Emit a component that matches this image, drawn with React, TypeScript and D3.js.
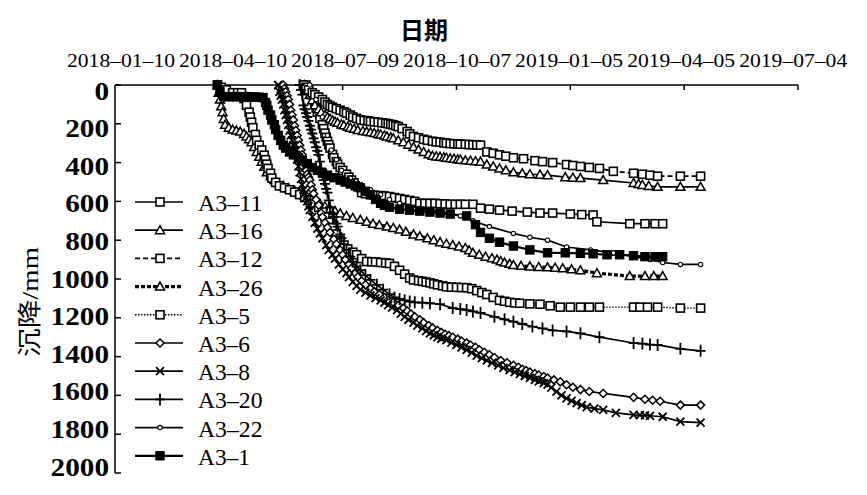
import React from 'react';
import * as d3 from 'd3';

type Pt = [string, number];

const dateTicks = ['2018-01-10', '2018-04-10', '2018-07-09', '2018-10-07', '2019-01-05', '2019-04-05', '2019-07-04'];
const yTicks = [0, 200, 400, 600, 800, 1000, 1200, 1400, 1600, 1800, 2000];
const seriesNames = ['A3-11', 'A3-16', 'A3-12', 'A3-26', 'A3-5', 'A3-6', 'A3-8', 'A3-20', 'A3-22', 'A3-1'];

const a3_11: Pt[] = [["2018-06-10",0],["2018-06-12",25],["2018-06-14",50],["2018-06-16",75],["2018-06-17",97],["2018-06-18",118],["2018-06-19",140],["2018-06-21",172],["2018-06-23",205],["2018-06-24",225],["2018-06-25",248],["2018-06-26",270],["2018-06-27",290],["2018-06-28",308],["2018-06-29",325],["2018-07-01",358],["2018-07-02",375],["2018-07-04",395],["2018-07-05",408],["2018-07-07",425],["2018-07-09",440],["2018-07-12",460],["2018-07-14",475],["2018-07-16",490],["2018-07-18",505],["2018-07-21",525],["2018-07-24",555],["2018-07-27",560],["2018-07-31",565],["2018-08-03",568],["2018-08-08",570],["2018-08-11",572],["2018-08-15",575],["2018-08-19",580],["2018-08-23",585],["2018-08-27",590],["2018-08-31",595],["2018-09-04",600],["2018-09-08",610],["2018-09-12",610],["2018-09-16",610],["2018-09-20",610],["2018-09-24",612],["2018-09-28",613],["2018-10-02",615],["2018-10-06",615],["2018-10-10",615],["2018-10-14",615],["2018-10-20",615],["2018-10-26",635],["2018-11-02",640],["2018-11-10",645],["2018-11-20",650],["2018-12-02",655],["2018-12-12",660],["2018-12-22",660],["2019-01-05",665],["2019-01-14",668],["2019-01-23",670],["2019-01-26",705],["2019-02-21",715],["2019-03-05",715],["2019-03-13",715],["2019-03-19",715]];

const a3_16: Pt[] = [["2018-06-09",0],["2018-06-11",25],["2018-06-13",50],["2018-06-15",78],["2018-06-17",105],["2018-06-20",125],["2018-06-22",140],["2018-06-25",155],["2018-06-27",165],["2018-06-29",174],["2018-07-01",182],["2018-07-03",189],["2018-07-05",195],["2018-07-08",203],["2018-07-10",208],["2018-07-13",215],["2018-07-15",220],["2018-07-18",226],["2018-07-21",232],["2018-07-25",237],["2018-07-28",240],["2018-07-31",244],["2018-08-03",248],["2018-08-06",252],["2018-08-08",255],["2018-08-11",260],["2018-08-13",265],["2018-08-16",270],["2018-08-18",275],["2018-08-22",285],["2018-08-26",295],["2018-08-30",308],["2018-09-03",320],["2018-09-07",333],["2018-09-11",345],["2018-09-15",357],["2018-09-18",365],["2018-09-21",368],["2018-09-24",370],["2018-09-27",373],["2018-09-29",375],["2018-10-02",378],["2018-10-05",380],["2018-10-08",383],["2018-10-10",385],["2018-10-14",388],["2018-10-18",390],["2018-10-22",393],["2018-10-26",395],["2018-10-31",410],["2018-11-05",420],["2018-11-10",430],["2018-11-15",440],["2018-11-21",450],["2018-11-28",455],["2018-12-04",460],["2018-12-12",462],["2018-12-18",465],["2019-01-01",475],["2019-01-07",478],["2019-01-13",480],["2019-01-31",490],["2019-02-24",505],["2019-02-28",510],["2019-03-03",515],["2019-03-08",520],["2019-03-15",525],["2019-04-02",525],["2019-04-18",525]];

const a3_12: Pt[] = [["2018-06-08",0],["2018-06-10",12],["2018-06-12",25],["2018-06-15",40],["2018-06-17",50],["2018-06-20",62],["2018-06-23",75],["2018-06-25",88],["2018-06-27",100],["2018-06-29",108],["2018-07-01",115],["2018-07-04",122],["2018-07-07",130],["2018-07-10",138],["2018-07-12",145],["2018-07-15",155],["2018-07-17",165],["2018-07-20",172],["2018-07-23",180],["2018-07-26",183],["2018-07-29",185],["2018-07-31",188],["2018-08-03",190],["2018-08-06",192],["2018-08-09",195],["2018-08-12",197],["2018-08-14",200],["2018-08-16",203],["2018-08-18",205],["2018-08-20",210],["2018-08-22",215],["2018-08-25",225],["2018-08-29",240],["2018-08-31",252],["2018-09-03",265],["2018-09-07",272],["2018-09-11",280],["2018-09-14",285],["2018-09-18",290],["2018-09-21",293],["2018-09-24",295],["2018-09-27",298],["2018-09-29",300],["2018-10-02",302],["2018-10-05",303],["2018-10-08",304],["2018-10-10",305],["2018-10-14",306],["2018-10-17",307],["2018-10-20",308],["2018-10-23",309],["2018-10-26",310],["2018-10-31",345],["2018-11-05",352],["2018-11-10",360],["2018-11-15",367],["2018-11-21",375],["2018-11-29",380],["2018-12-08",390],["2018-12-14",395],["2018-12-22",400],["2019-01-02",410],["2019-01-07",415],["2019-01-13",420],["2019-01-20",425],["2019-01-28",430],["2019-02-08",445],["2019-02-24",455],["2019-03-03",460],["2019-03-09",465],["2019-03-15",470],["2019-04-02",470],["2019-04-18",470]];

const a3_26: Pt[] = [["2018-04-01",0],["2018-04-02",40],["2018-04-03",75],["2018-04-04",110],["2018-04-05",140],["2018-04-06",175],["2018-04-07",205],["2018-04-10",220],["2018-04-13",230],["2018-04-16",235],["2018-04-19",240],["2018-04-22",252],["2018-04-24",265],["2018-04-26",280],["2018-04-28",295],["2018-04-30",320],["2018-05-02",345],["2018-05-04",370],["2018-05-06",395],["2018-05-08",422],["2018-05-10",450],["2018-05-13",470],["2018-05-16",490],["2018-05-19",505],["2018-05-23",520],["2018-05-27",532],["2018-06-01",545],["2018-06-05",558],["2018-06-09",570],["2018-06-13",585],["2018-06-17",600],["2018-06-21",612],["2018-06-25",625],["2018-06-29",638],["2018-07-03",650],["2018-07-07",662],["2018-07-12",675],["2018-07-17",685],["2018-07-23",695],["2018-07-28",705],["2018-08-02",715],["2018-08-07",722],["2018-08-13",730],["2018-08-18",737],["2018-08-23",745],["2018-08-28",757],["2018-09-03",770],["2018-09-08",780],["2018-09-14",790],["2018-09-19",800],["2018-09-24",810],["2018-09-29",818],["2018-10-04",825],["2018-10-09",832],["2018-10-14",840],["2018-10-17",852],["2018-10-20",865],["2018-10-25",875],["2018-10-30",885],["2018-11-04",893],["2018-11-08",900],["2018-11-11",908],["2018-11-14",915],["2018-11-18",922],["2018-11-21",928],["2018-11-27",932],["2018-12-04",935],["2018-12-11",938],["2018-12-18",940],["2018-12-24",942],["2018-12-30",945],["2019-01-06",950],["2019-01-13",955],["2019-01-26",970],["2019-02-21",985],["2019-03-05",985],["2019-03-12",985],["2019-03-19",985]];

const a3_5: Pt[] = [["2018-04-01",0],["2018-04-04",12],["2018-04-08",25],["2018-04-13",40],["2018-04-17",40],["2018-04-20",40],["2018-04-22",70],["2018-04-24",105],["2018-04-26",140],["2018-04-27",165],["2018-04-28",192],["2018-04-29",220],["2018-05-01",255],["2018-05-02",285],["2018-05-04",310],["2018-05-06",335],["2018-05-08",362],["2018-05-09",385],["2018-05-10",408],["2018-05-11",430],["2018-05-13",455],["2018-05-14",480],["2018-05-17",502],["2018-05-20",520],["2018-05-24",530],["2018-05-28",540],["2018-06-01",552],["2018-06-05",565],["2018-06-09",580],["2018-06-13",595],["2018-06-17",612],["2018-06-20",630],["2018-06-23",655],["2018-06-25",680],["2018-06-28",708],["2018-07-01",735],["2018-07-04",768],["2018-07-07",800],["2018-07-10",825],["2018-07-13",845],["2018-07-17",862],["2018-07-20",875],["2018-07-24",895],["2018-07-28",910],["2018-08-01",911],["2018-08-04",912],["2018-08-08",915],["2018-08-12",917],["2018-08-15",920],["2018-08-19",935],["2018-08-23",955],["2018-08-27",975],["2018-08-31",995],["2018-09-03",1005],["2018-09-07",1009],["2018-09-10",1012],["2018-09-13",1016],["2018-09-16",1020],["2018-09-19",1025],["2018-09-22",1030],["2018-09-26",1035],["2018-09-29",1040],["2018-10-03",1042],["2018-10-07",1043],["2018-10-11",1044],["2018-10-15",1045],["2018-10-19",1050],["2018-10-23",1060],["2018-10-27",1070],["2018-10-31",1080],["2018-11-05",1095],["2018-11-10",1110],["2018-11-14",1115],["2018-11-18",1120],["2018-11-22",1123],["2018-11-26",1125],["2018-12-04",1128],["2018-12-12",1130],["2018-12-20",1138],["2018-12-28",1145],["2019-01-05",1145],["2019-01-13",1145],["2019-01-20",1145],["2019-01-28",1145],["2019-02-24",1145],["2019-03-01",1145],["2019-03-07",1145],["2019-03-15",1145],["2019-04-02",1150],["2019-04-18",1150]];

const a3_6: Pt[] = [["2018-05-23",0],["2018-05-24",18],["2018-05-25",35],["2018-05-26",55],["2018-05-27",75],["2018-05-28",100],["2018-05-29",130],["2018-05-30",155],["2018-05-31",180],["2018-06-01",210],["2018-06-02",235],["2018-06-03",260],["2018-06-04",285],["2018-06-05",310],["2018-06-06",335],["2018-06-07",360],["2018-06-08",385],["2018-06-09",410],["2018-06-10",440],["2018-06-11",460],["2018-06-12",475],["2018-06-13",490],["2018-06-14",515],["2018-06-15",540],["2018-06-16",560],["2018-06-18",590],["2018-06-20",620],["2018-06-22",660],["2018-06-23",680],["2018-06-25",710],["2018-06-27",735],["2018-06-29",760],["2018-07-02",795],["2018-07-04",820],["2018-07-07",850],["2018-07-09",875],["2018-07-11",900],["2018-07-14",925],["2018-07-16",945],["2018-07-19",970],["2018-07-21",990],["2018-07-24",1010],["2018-07-27",1030],["2018-07-31",1050],["2018-08-03",1065],["2018-08-07",1080],["2018-08-11",1095],["2018-08-14",1108],["2018-08-18",1120],["2018-08-22",1135],["2018-08-26",1150],["2018-08-29",1165],["2018-09-01",1180],["2018-09-04",1195],["2018-09-08",1210],["2018-09-11",1225],["2018-09-15",1240],["2018-09-18",1252],["2018-09-22",1265],["2018-09-25",1275],["2018-09-28",1285],["2018-10-01",1292],["2018-10-04",1300],["2018-10-08",1310],["2018-10-11",1320],["2018-10-15",1330],["2018-10-18",1340],["2018-10-22",1352],["2018-10-25",1365],["2018-10-29",1378],["2018-11-02",1390],["2018-11-06",1405],["2018-11-11",1420],["2018-11-16",1432],["2018-11-21",1445],["2018-11-25",1455],["2018-11-28",1465],["2018-12-01",1472],["2018-12-04",1480],["2018-12-08",1488],["2018-12-11",1495],["2018-12-15",1503],["2018-12-18",1510],["2018-12-23",1520],["2018-12-28",1530],["2019-01-02",1545],["2019-01-07",1558],["2019-01-13",1570],["2019-01-20",1580],["2019-01-31",1590],["2019-02-24",1610],["2019-03-05",1620],["2019-03-11",1625],["2019-03-17",1630],["2019-04-02",1650],["2019-04-18",1650]];

const a3_8: Pt[] = [["2018-05-19",0],["2018-05-20",35],["2018-05-21",55],["2018-05-22",75],["2018-05-23",100],["2018-05-24",130],["2018-05-25",155],["2018-05-26",180],["2018-05-27",205],["2018-05-28",235],["2018-05-29",260],["2018-05-30",285],["2018-05-31",310],["2018-06-01",335],["2018-06-02",360],["2018-06-03",385],["2018-06-04",420],["2018-06-05",450],["2018-06-06",485],["2018-06-07",515],["2018-06-08",540],["2018-06-09",560],["2018-06-10",580],["2018-06-11",600],["2018-06-12",625],["2018-06-13",645],["2018-06-15",680],["2018-06-17",710],["2018-06-19",740],["2018-06-21",765],["2018-06-23",790],["2018-06-26",825],["2018-06-28",850],["2018-07-01",875],["2018-07-03",895],["2018-07-06",925],["2018-07-09",950],["2018-07-12",970],["2018-07-14",990],["2018-07-17",1015],["2018-07-20",1035],["2018-07-23",1055],["2018-07-27",1070],["2018-07-31",1085],["2018-08-04",1098],["2018-08-08",1110],["2018-08-11",1122],["2018-08-14",1135],["2018-08-17",1148],["2018-08-21",1160],["2018-08-24",1178],["2018-08-27",1195],["2018-08-30",1210],["2018-09-03",1225],["2018-09-06",1240],["2018-09-10",1255],["2018-09-13",1268],["2018-09-16",1280],["2018-09-19",1290],["2018-09-22",1300],["2018-09-25",1308],["2018-09-29",1315],["2018-10-03",1328],["2018-10-07",1340],["2018-10-11",1352],["2018-10-15",1365],["2018-10-19",1380],["2018-10-23",1395],["2018-10-27",1408],["2018-10-31",1420],["2018-11-04",1432],["2018-11-09",1445],["2018-11-13",1458],["2018-11-18",1470],["2018-11-22",1480],["2018-11-26",1490],["2018-11-30",1500],["2018-12-04",1510],["2018-12-08",1520],["2018-12-11",1528],["2018-12-15",1537],["2018-12-18",1545],["2018-12-21",1560],["2018-12-25",1580],["2018-12-29",1600],["2019-01-02",1615],["2019-01-06",1628],["2019-01-10",1640],["2019-01-14",1650],["2019-01-18",1660],["2019-01-24",1668],["2019-01-31",1675],["2019-02-10",1690],["2019-02-24",1700],["2019-03-01",1702],["2019-03-05",1703],["2019-03-09",1705],["2019-03-19",1710],["2019-04-02",1735],["2019-04-18",1740]];

const a3_20: Pt[] = [["2018-06-05",0],["2018-06-06",25],["2018-06-07",50],["2018-06-08",105],["2018-06-09",125],["2018-06-10",145],["2018-06-11",165],["2018-06-12",185],["2018-06-13",210],["2018-06-14",230],["2018-06-15",250],["2018-06-16",275],["2018-06-17",295],["2018-06-18",320],["2018-06-19",340],["2018-06-20",360],["2018-06-21",395],["2018-06-22",430],["2018-06-23",460],["2018-06-24",490],["2018-06-25",510],["2018-06-26",535],["2018-06-27",555],["2018-06-28",595],["2018-06-29",630],["2018-07-01",660],["2018-07-02",680],["2018-07-04",715],["2018-07-05",730],["2018-07-07",770],["2018-07-08",790],["2018-07-10",820],["2018-07-12",850],["2018-07-15",885],["2018-07-17",910],["2018-07-20",935],["2018-07-23",955],["2018-07-27",980],["2018-07-31",1005],["2018-08-05",1030],["2018-08-10",1055],["2018-08-15",1078],["2018-08-19",1095],["2018-08-23",1103],["2018-08-27",1110],["2018-08-31",1116],["2018-09-04",1120],["2018-09-10",1122],["2018-09-16",1125],["2018-09-24",1130],["2018-10-04",1150],["2018-10-10",1155],["2018-10-15",1160],["2018-10-20",1167],["2018-10-26",1175],["2018-11-06",1195],["2018-11-14",1208],["2018-11-21",1220],["2018-11-28",1232],["2018-12-06",1245],["2018-12-14",1255],["2018-12-22",1265],["2019-01-02",1270],["2019-01-13",1280],["2019-01-28",1300],["2019-02-24",1330],["2019-03-03",1333],["2019-03-09",1338],["2019-03-15",1340],["2019-04-02",1360],["2019-04-18",1370]];

const a3_22: Pt[] = [["2018-06-13",0],["2018-06-18",75],["2018-06-23",165],["2018-06-27",260],["2018-06-30",335],["2018-07-04",385],["2018-07-08",440],["2018-07-15",480],["2018-07-23",515],["2018-07-31",540],["2018-08-08",565],["2018-08-15",590],["2018-08-23",610],["2018-09-08",635],["2018-09-24",655],["2018-10-10",675],["2018-10-20",700],["2018-11-02",730],["2018-11-21",765],["2018-12-04",785],["2018-12-18",800],["2019-01-02",835],["2019-01-21",850],["2019-02-08",865],["2019-02-24",885],["2019-03-09",900],["2019-03-19",915],["2019-04-02",925],["2019-04-18",925]];

const a3_1: Pt[] = [["2018-04-01",0],["2018-04-03",35],["2018-04-06",60],["2018-04-10",60],["2018-04-13",60],["2018-04-16",60],["2018-04-19",60],["2018-04-22",60],["2018-04-25",60],["2018-04-28",62],["2018-05-01",62],["2018-05-04",63],["2018-05-07",65],["2018-05-09",90],["2018-05-10",105],["2018-05-11",130],["2018-05-13",155],["2018-05-14",180],["2018-05-16",205],["2018-05-17",230],["2018-05-19",260],["2018-05-21",285],["2018-05-23",310],["2018-05-25",325],["2018-05-28",345],["2018-05-31",360],["2018-06-04",375],["2018-06-07",390],["2018-06-11",405],["2018-06-15",425],["2018-06-19",440],["2018-06-23",455],["2018-06-27",465],["2018-07-02",478],["2018-07-07",490],["2018-07-11",500],["2018-07-15",510],["2018-07-19",520],["2018-07-23",530],["2018-07-27",548],["2018-07-31",565],["2018-08-04",590],["2018-08-08",610],["2018-08-11",620],["2018-08-15",630],["2018-08-23",640],["2018-08-31",645],["2018-09-08",650],["2018-09-16",655],["2018-09-24",660],["2018-10-02",665],["2018-10-15",675],["2018-10-22",720],["2018-10-26",760],["2018-11-02",790],["2018-11-10",810],["2018-11-21",830],["2018-12-04",850],["2018-12-18",865],["2019-01-01",865],["2019-01-13",868],["2019-01-23",870],["2019-02-03",875],["2019-02-13",875],["2019-02-24",880],["2019-03-05",885],["2019-03-13",885],["2019-03-19",885]];

const seriesData: Pt[][] = [a3_11, a3_16, a3_12, a3_26, a3_5, a3_6, a3_8, a3_20, a3_22, a3_1];

type Style = { marker: string; dash: string; width: number };
const styles: Style[] = [
  { marker: 'square', dash: '', width: 1.7 },
  { marker: 'triangle', dash: '', width: 1.7 },
  { marker: 'square', dash: '5,3', width: 1.7 },
  { marker: 'triangle', dash: '4,2', width: 3.2 },
  { marker: 'square', dash: '1.5,1.5', width: 1.4 },
  { marker: 'diamond', dash: '', width: 1.7 },
  { marker: 'cross', dash: '', width: 1.7 },
  { marker: 'plus', dash: '', width: 1.7 },
  { marker: 'dot', dash: '', width: 1.7 },
  { marker: 'fsquare', dash: '', width: 2.2 },
];

const W = 867, H = 495;
const parse = d3.utcParse('%Y-%m-%d');
const SERIF = '"Liberation Serif", serif';
const CJK = '"Noto Sans CJK SC", sans-serif';

function Marker({ type, x, y }: { type: string; x: number; y: number }) {
  const t = `translate(${x},${y})`;
  switch (type) {
    case 'square':
      return <rect transform={t} x={-4} y={-4} width={8} height={8} fill="#fff" stroke="#000" strokeWidth={1.6} />;
    case 'fsquare':
      return <rect transform={t} x={-4.2} y={-4.2} width={8.4} height={8.4} fill="#000" stroke="#000" strokeWidth={1} />;
    case 'triangle':
      return <path transform={t} d="M0,-4.5 L4.5,3.5 L-4.5,3.5 Z" fill="#fff" stroke="#000" strokeWidth={1.5} />;
    case 'diamond':
      return <path transform={t} d="M0,-4 L4,0 L0,4 L-4,0 Z" fill="#fff" stroke="#000" strokeWidth={1.5} />;
    case 'cross':
      return <path transform={t} d="M-4,-4 L4,4 M-4,4 L4,-4" stroke="#000" strokeWidth={1.8} fill="none" />;
    case 'plus':
      return <path transform={t} d="M0,-6 L0,6 M-5,0 L5,0" stroke="#000" strokeWidth={1.8} fill="none" />;
    case 'dot':
      return <circle transform={t} r={2.2} fill="#fff" stroke="#000" strokeWidth={1.1} />;
    default:
      return null;
  }
}

export default function App() {
  const x = d3.scaleUtc().domain([parse(dateTicks[0])!, parse(dateTicks[dateTicks.length - 1])!]).range([115, 798]);
  const y = d3.scaleLinear().domain([0, 2000]).range([85, 473]);
  const line = d3.line<Pt>().x(d => x(parse(d[0])!)).y(d => y(d[1]));

  const legendY0 = 202, legendStep = 28.2;

  return (
    <div style={{ position: 'absolute', left: 0, top: 0 }}>
      <svg width={W} height={H} viewBox={`0 0 ${W} ${H}`} style={{ display: 'block', background: '#fff' }}>
        <rect width={W} height={H} fill="#fff" />
        <text x={424} y={39} textAnchor="middle" fontFamily={CJK} fontWeight="bold" fontSize={24} fill="#000">日期</text>
        <line x1={115} x2={798} y1={85} y2={85} stroke="#000" strokeWidth={1.5} />
        {dateTicks.map((d, i) => {
          const tx = x(parse(d)!);
          return (
            <g key={d}>
              {i > 0 && <line x1={tx} x2={tx} y1={85} y2={90} stroke="#000" strokeWidth={1.5} />}
              <text x={tx + 6 - i * 1.8} y={67} textAnchor="middle" fontFamily={SERIF} fontSize={18} textLength={108} lengthAdjust="spacingAndGlyphs" fill="#000">{d.replace(/-/g, '–')}</text>
            </g>
          );
        })}
        <line x1={115} x2={115} y1={85} y2={473} stroke="#000" strokeWidth={1.5} />
        {yTicks.map(v => {
          const ty = y(v);
          const s = String(v);
          return (
            <g key={v}>
              <line x1={115} x2={121} y1={ty} y2={ty} stroke="#000" strokeWidth={1.5} />
              <text x={109} y={ty + 8.5 + 6 - v * 0.006} textAnchor="end" fontFamily={SERIF} fontWeight="bold" fontSize={25} textLength={s.length * 14.6} lengthAdjust="spacingAndGlyphs" fill="#000">{s}</text>
            </g>
          );
        })}
        <text transform="translate(38,302) rotate(-90)" textAnchor="middle" fontSize={24} fill="#000" textLength={110} lengthAdjust="spacingAndGlyphs">
          <tspan fontFamily={CJK}>沉降</tspan><tspan fontFamily={SERIF}>/mm</tspan>
        </text>
        {seriesData.map((data, i) => (
          <path key={'l' + i} d={line(data) || ''} fill="none" stroke="#000" strokeWidth={styles[i].width} strokeDasharray={styles[i].dash || undefined} />
        ))}
        {seriesData.map((data, i) => (
          <g key={'m' + i}>
            {data.map((p, j) => <Marker key={j} type={styles[i].marker} x={x(parse(p[0])!)} y={y(p[1])} />)}
          </g>
        ))}
        {seriesNames.map((name, i) => {
          const ly = legendY0 + i * legendStep;
          const label = name.replace('-', '–');
          return (
            <g key={name}>
              <line x1={135} x2={183} y1={ly} y2={ly} stroke="#000" strokeWidth={styles[i].width} strokeDasharray={styles[i].dash || undefined} />
              <Marker type={styles[i].marker} x={160} y={ly} />
              <text x={198} y={ly + 9} fontFamily={SERIF} fontSize={23} textLength={52 + 12.5 * (label.length - 4)} lengthAdjust="spacingAndGlyphs" fill="#000">{label}</text>
            </g>
          );
        })}
      </svg>
    </div>
  );
}
